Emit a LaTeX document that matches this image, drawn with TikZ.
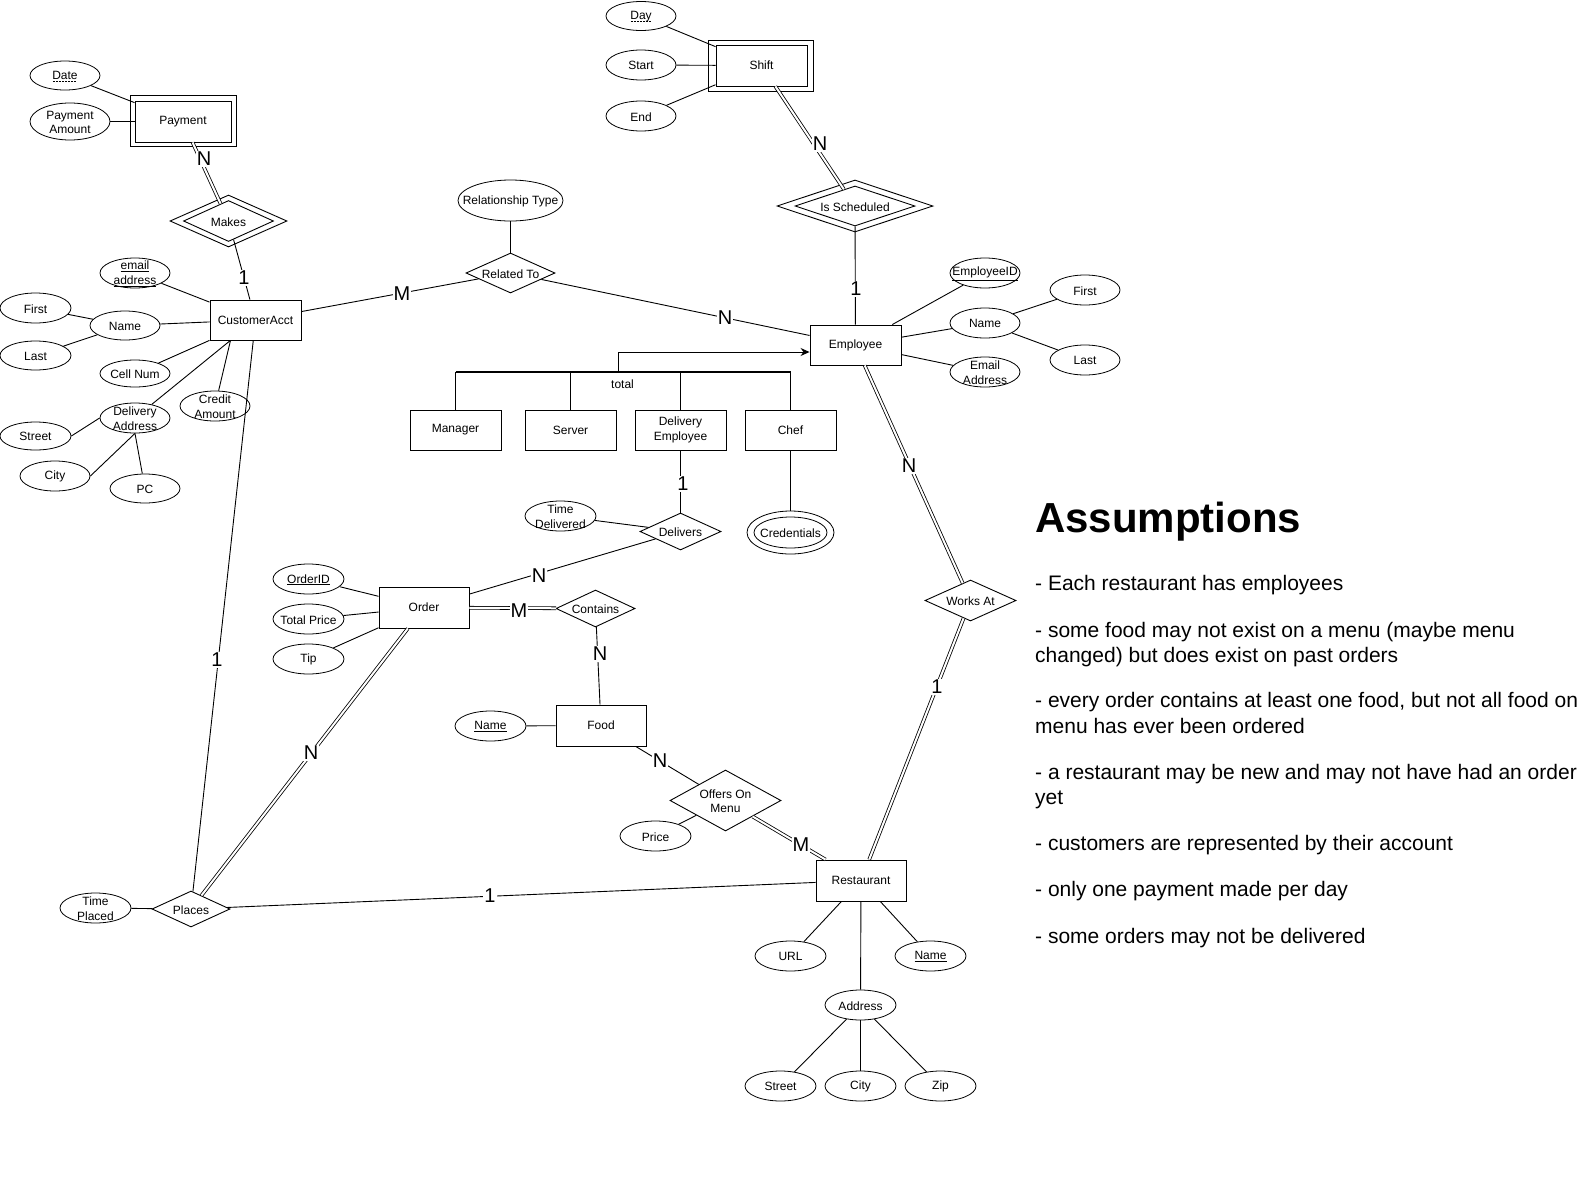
\documentclass[tikz,border=0pt]{standalone}
\usepackage{fontspec}
\setmainfont{Liberation Sans}
\usetikzlibrary{shapes.geometric,arrows.meta}
\newcommand\nf{\fontsize{12}{14.5}\selectfont}
\newcommand\cf{\fontsize{20}{24}\selectfont}
\newcommand\af{\fontsize{21}{25}\selectfont}
\newcommand\hf{\fontsize{42}{48}\selectfont\bfseries}
\newcommand\dul[1]{\setbox0\hbox{#1}\leavevmode\rlap{\raisebox{-2pt}{\hbox to \wd0{\leaders\hbox to 3pt{\hss\vrule height 0.7pt depth 0pt width 2pt\hss}\hfill}}}\box0}
\begin{document}
\begin{tikzpicture}[x=1pt,y=-1pt,
  ln/.style={line width=0.9pt},
  dbl/.style={double, double distance=2pt, line width=0.8pt},
  ent/.style={draw, line width=0.9pt, rectangle, minimum width=91pt, minimum height=40pt, inner sep=0pt, align=center, font=\nf},
  frame/.style={draw, line width=0.9pt, rectangle, inner sep=0pt},
  attr/.style={draw, line width=0.8pt, ellipse, inner sep=0pt, minimum width=71pt, minimum height=30pt},
  rel/.style={draw, line width=0.9pt, diamond, inner sep=0pt},
  lbl/.style={font=\nf, align=center, inner sep=0pt},
  card/.style={fill=white, inner sep=1pt, font=\cf},
  asm/.style={anchor=base west, inner sep=0pt, font=\af},
  every label/.append style={lbl, yshift=-0.8pt}
]
\useasboundingbox (0,0) rectangle (1591,1181);

% ---------- entities ----------
\node[ent, minimum width=96pt, minimum height=41pt] (pay) at (183,121.5) {Payment};
\node[frame, minimum width=106pt, minimum height=51pt] (payO) at (183,120.5) {};
\node[ent, minimum width=91pt, minimum height=41pt] (shift) at (761.5,65.5) {Shift};
\node[frame, minimum width=105pt, minimum height=51pt] (shiftO) at (760.5,65.5) {};
\node[ent] (ca) at (255.5,320) {CustomerAcct};
\node[ent] (emp) at (855.5,345) {Employee};
\node[ent] (mgr) at (455.5,430) {Manager};
\node[ent] (srv) at (570.5,430) {Server};
\node[ent] (demp) at (680.5,430) {Delivery\\Employee};
\node[ent] (chef) at (790.5,430) {Chef};
\node[ent, minimum width=90pt, minimum height=41pt] (order) at (424,607.5) {Order};
\node[ent, minimum width=90pt, minimum height=41pt] (food) at (601,725.5) {Food};
\node[ent, minimum width=90pt, minimum height=41pt] (rest) at (861,880.5) {Restaurant};

% ---------- relationships ----------
\node[rel, minimum width=90pt, minimum height=41pt, label={center:Makes}] (makes) at (228.5,221) {};
\node[rel, minimum width=117pt, minimum height=52pt] (makesO) at (228.5,221) {};
\node[rel, minimum width=120pt, minimum height=40pt, label={center:Is Scheduled}] (sched) at (855,206) {};
\node[rel, minimum width=156pt, minimum height=52pt] (schedO) at (855,206) {};
\node[rel, minimum width=89pt, minimum height=40pt, label={center:Related To}] (relto) at (510.5,273) {};
\node[rel, minimum width=81pt, minimum height=37pt, label={center:Delivers}] (deliv) at (680.5,531.5) {};
\node[rel, minimum width=79pt, minimum height=37pt, label={center:Contains}] (cont) at (595.5,608.5) {};
\node[rel, minimum width=111pt, minimum height=61pt, label={center:{Offers On\\Menu}}] (offers) at (725.5,800.5) {};
\node[rel, minimum width=91pt, minimum height=41pt, label={center:Works At}] (works) at (970.5,600.5) {};
\node[rel, minimum width=78pt, minimum height=36pt, label={center:Places}] (places) at (191,909) {};

% ---------- attributes ----------
\node[attr, minimum width=70pt, minimum height=29pt, label={center:\dul{Date}}] (date) at (65,75.5) {};
\node[attr, minimum width=80pt, minimum height=37pt, label={center:{Payment\\Amount}}] (pamt) at (70,121.5) {};
\node[attr, minimum width=70pt, minimum height=29pt, label={center:\dul{Day}}] (day) at (641,16) {};
\node[attr, minimum width=70pt, label={center:Start}] (start) at (641,65) {};
\node[attr, minimum width=70pt, label={center:End}] (endA) at (641,116) {};

\node[attr, minimum width=70pt, label={center:{\underline{email}\\\underline{address}}}] (email) at (135,273) {};
\node[attr, label={center:First}] (cfirst) at (35.5,308) {};
\node[attr, minimum width=70pt, minimum height=29pt, label={center:Name}] (cname) at (125,325.5) {};
\node[attr, minimum height=29pt, label={center:Last}] (clast) at (35.5,355.5) {};
\node[attr, minimum width=70pt, minimum height=27pt, label={center:Cell Num}] (cell) at (135,373.5) {};
\node[attr, minimum width=70pt, label={center:{Credit\\Amount}}] (credit) at (215,406) {};
\node[attr, minimum width=70pt, label={center:{Delivery\\Address}}] (daddr) at (135,418) {};
\node[attr, minimum height=28pt, label={center:Street}] (cstreet) at (35.5,436) {};
\node[attr, minimum width=70pt, label={center:City}] (ccity) at (55,476) {};
\node[attr, minimum width=70pt, minimum height=29pt, label={center:PC}] (cpc) at (145,488.5) {};

\node[attr, minimum width=105pt, minimum height=41pt, label={center:Relationship Type}] (reltype) at (510.5,200.5) {};

\node[attr, minimum width=70pt, label={center:\underline{EmployeeID}}] (empid) at (985,273) {};
\node[attr, minimum width=70pt, label={center:Name}] (ename) at (985,323) {};
\node[attr, minimum width=70pt, label={center:{Email\\Address}}] (eemail) at (985,372) {};
\node[attr, minimum width=70pt, label={center:First}] (efirst) at (1085,290) {};
\node[attr, minimum width=70pt, label={center:Last}] (elast) at (1085,360) {};

\node[attr, minimum width=87pt, minimum height=43pt] (cred) at (790.5,532.5) {};
\node[attr, minimum width=73pt, minimum height=31pt, label={center:Credentials}] (credI) at (790.5,532.5) {};

\node[attr, label={center:{Time\\Delivered}}] (tdel) at (560.5,516) {};
\node[attr, label={center:\underline{OrderID}}] (oid) at (308.5,579) {};
\node[attr, label={center:Total Price}] (tprice) at (308.5,619) {};
\node[attr, label={center:Tip}] (tip) at (308.5,659) {};
\node[attr, label={center:\underline{Name}}] (fname) at (490.5,726) {};
\node[attr, label={center:Price}] (price) at (655.5,836) {};
\node[attr, label={center:URL}] (url) at (790.5,956) {};
\node[attr, label={center:\underline{Name}}] (rname) at (930.5,956) {};
\node[attr, label={center:Address}] (raddr) at (860.5,1005) {};
\node[attr, label={center:Street}] (rstreet) at (780.5,1086) {};
\node[attr, label={center:City}] (rcity) at (860.5,1086) {};
\node[attr, label={center:Zip}] (zip) at (940.5,1086) {};
\node[attr, label={center:{Time\\Placed}}] (tplaced) at (95.5,908) {};

% ---------- attribute lines ----------
\draw[ln] (date) -- (pay);
\draw[ln] (pamt) -- (pay);
\draw[ln] (day) -- (shift);
\draw[ln] (start) -- (shift);
\draw[ln] (endA) -- (shift);
\draw[ln] (email) -- (ca);
\draw[ln] (cname) -- (ca);
\draw[ln] (cfirst) -- (cname);
\draw[ln] (clast) -- (cname);
\draw[ln] (cell) -- (ca);
\draw[ln] (daddr) -- (ca);
\draw[ln] (credit) -- ([xshift=-25pt]ca.south);
\draw[ln] (cstreet.east) -- (daddr.west);
\draw[ln] (ccity.east) -- (daddr.south);
\draw[ln] (cpc) -- (daddr.south);
\draw[ln] (reltype) -- (relto);
\draw[ln] (empid) -- (emp);
\draw[ln] (ename) -- (emp);
\draw[ln] (eemail) -- (emp);
\draw[ln] (efirst) -- (ename);
\draw[ln] (elast) -- (ename);
\draw[ln] (chef) -- (cred);
\draw[ln] (tdel) -- (deliv);
\draw[ln] (oid) -- (order);
\draw[ln] (tprice) -- (order);
\draw[ln] (tip) -- (order);
\draw[ln] (fname) -- (food);
\draw[ln] (price) -- (offers);
\draw[ln] (url) -- (rest);
\draw[ln] (rname) -- (rest);
\draw[ln] (raddr) -- (rest);
\draw[ln] (rstreet) -- (raddr);
\draw[ln] (rcity) -- (raddr);
\draw[ln] (zip) -- (raddr);
\draw[ln] (tplaced) -- (places);

% ---------- relationship lines ----------
\draw[dbl] (pay) -- (makes);
\draw[ln] (makes) -- (ca);
\draw[ln] (ca) -- (relto);
\draw[ln] (relto) -- (emp);
\draw[dbl] (shift) -- (sched);
\draw[ln] (sched) -- (emp);
\draw[dbl] (emp) -- (works);
\draw[dbl] (works) -- (rest);
\draw[ln] (demp) -- (deliv);
\draw[ln] (deliv) -- (order);
\draw[dbl] (order) -- (cont);
\draw[ln] (cont) -- (food);
\draw[ln] (food) -- (offers);
\draw[dbl] (offers) -- (rest);
\draw[dbl] (order) -- (places);
\draw[ln] (ca) -- (places);
\draw[ln] (places) -- (rest);

% ---------- specialization ----------
\coordinate (isa) at (618,372);
\draw[line width=2.7pt] (mgr.north |- isa) -- (chef.north |- isa);
\draw[ln] (mgr.north) -- (mgr.north |- isa);
\draw[ln] (srv.north) -- (srv.north |- isa);
\draw[ln] (demp.north) -- (demp.north |- isa);
\draw[ln] (chef.north) -- (chef.north |- isa);
\draw[ln, -{Stealth[length=9pt,width=8pt]}] (isa) |- ([yshift=-7pt]emp.west);
\node[lbl] (total) at (622.5,384) {total};

% ---------- cardinalities ----------
\node[card] (c1) at (204,159) {N};
\node[card] (c2) at (244,278) {1};
\node[card] (c3) at (402,294) {M};
\node[card] (c4) at (725,318) {N};
\node[card] (c5) at (820,144) {N};
\node[card] (c6) at (856,289) {1};
\node[card] (c7) at (909,466) {N};
\node[card] (c8) at (937,687) {1};
\node[card] (c9) at (683,484) {1};
\node[card] (c10) at (539,576) {N};
\node[card] (c11) at (519,611) {M};
\node[card] (c12) at (600,654) {N};
\node[card] (c13) at (660,761) {N};
\node[card] (c14) at (801,845) {M};
\node[card] (c15) at (311,753) {N};
\node[card] (c16) at (217,660) {1};
\node[card] (c17) at (490,896) {1};

% ---------- assumptions ----------
\node[anchor=base west, inner sep=0pt, font=\hf] (asmT) at (1035,532) {Assumptions};
\node[asm] (a1) at (1035,590) {- Each restaurant has employees};
\node[asm] (a2) at (1035,637) {- some food may not exist on a menu (maybe menu};
\node[asm] (a2b) at (1035,662) {changed) but does exist on past orders};
\node[asm] (a3) at (1035,707) {- every order contains at least one food, but not all food on};
\node[asm] (a3b) at (1035,733) {menu has ever been ordered};
\node[asm] (a4) at (1035,779) {- a restaurant may be new and may not have had an order};
\node[asm] (a4b) at (1035,804) {yet};
\node[asm] (a5) at (1035,850) {- customers are represented by their account};
\node[asm] (a6) at (1035,896) {- only one payment made per day};
\node[asm] (a7) at (1035,943) {- some orders may not be delivered};
\end{tikzpicture}
\end{document}
